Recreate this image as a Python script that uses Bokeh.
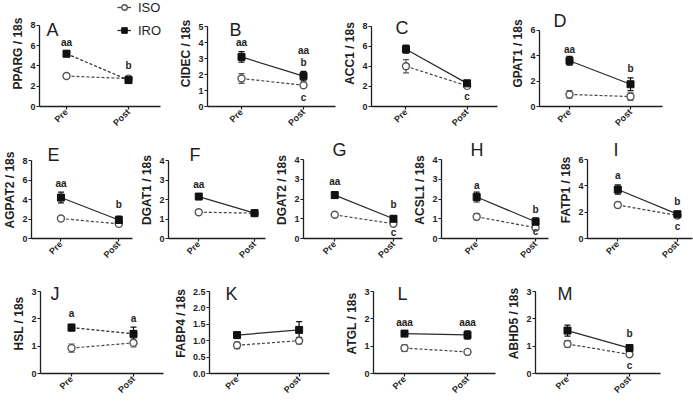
import math
import numpy as np
from bokeh.plotting import figure
from bokeh.models import (Range1d, FixedTicker, ColumnDataSource, Whisker, TeeHead,
                          Label, Legend, LegendItem, NumeralTickFormatter)
from bokeh.layouts import row, column
from bokeh.embed import file_html
from bokeh.resources import INLINE
from bokeh.core.properties import value

# ---------------- data ----------------
letters = ["A", "B", "C", "D", "E", "F", "G", "H", "I", "J", "K", "L", "M"]
genes = ["PPARG", "CIDEC", "ACC1", "GPAT1", "AGPAT2", "DGAT1", "DGAT2",
         "ACSL1", "FATP1", "HSL", "FABP4", "ATGL", "ABHD5"]
x_labels = ["Pre", "Post"]
series_names = ["ISO", "IRO"]
y_max = [8, 5, 8, 6, 8, 4, 4, 4, 6, 3, 2.5, 3, 3]
y_step = [2, 1, 2, 2, 2, 1, 1, 1, 2, 1, 0.5, 1, 1]

iso_pre = [3.0, 1.75, 4.0, 0.95, 2.05, 1.35, 1.2, 1.1, 2.55, 0.93, 0.86, 0.93, 1.08]
iso_post = [2.75, 1.33, 2.05, 0.78, 1.5, 1.3, 0.75, 0.55, 1.75, 1.12, 1.0, 0.79, 0.7]
iso_pre_err = [0.2, 0.3, 0.65, 0.3, 0.2, 0.1, 0.07, 0.15, 0.2, 0.15, 0.1, 0.12, 0.12]
iso_post_err = [0.2, 0.1, 0.2, 0.3, 0.15, 0.1, 0.07, 0.1, 0.1, 0.15, 0.1, 0.05, 0.07]
iro_pre = [5.2, 3.1, 5.7, 3.6, 4.2, 2.15, 2.2, 2.1, 3.72, 1.68, 1.17, 1.46, 1.57]
iro_post = [2.6, 1.9, 2.3, 1.75, 1.9, 1.3, 1.0, 0.85, 1.85, 1.45, 1.33, 1.41, 0.93]
iro_pre_err = [0.3, 0.33, 0.4, 0.35, 0.55, 0.15, 0.15, 0.25, 0.35, 0.12, 0.07, 0.05, 0.2]
iro_post_err = [0.3, 0.3, 0.3, 0.5, 0.4, 0.15, 0.15, 0.2, 0.1, 0.25, 0.25, 0.15, 0.1]

# significance letters: panel index, x category (0=Pre, 1=Post), y value, text
note_panel = [0, 0, 1, 1, 1, 1, 2, 3, 3, 4, 4, 5, 6, 6, 6, 7, 7, 7, 8, 8, 8, 9, 9, 11, 11, 12, 12]
note_cat = [0, 1, 0, 1, 1, 1, 1, 0, 1, 0, 1, 0, 0, 1, 1, 0, 1, 1, 0, 1, 1, 0, 1, 0, 1, 1, 1]
note_y = [6.35, 4.0, 4.0, 3.5, 2.75, 0.55, 1.0, 4.5, 3.0, 5.6, 3.5, 2.75, 2.9, 1.7, 0.3,
          2.7, 1.45, 0.38, 4.8, 2.85, 0.95, 2.18, 2.0, 1.87, 1.87, 1.45, 0.3]
note_text = ["aa", "b", "aa", "aa", "b", "c", "c", "aa", "b", "aa", "b", "aa", "aa", "b", "c",
             "a", "b", "c", "a", "b", "c", "a", "a", "aaa", "aaa", "b", "c"]

# ---------------- styles / layout (pixel positions) ----------------
iro_dashed = [True, False, False, False, False, False, False, False, False, True, False, False, False]
FONT = "Liberation Sans"
INK = "#1e1e1e"
ISO_COL = "#555555"

rows_idx = [[0, 1, 2, 3], [4, 5, 6, 7, 8], [9, 10, 11, 12]]
row_edges_y = [0, 141, 273, 403]
col_edges = [[0, 175, 340, 505, 693], [0, 137, 272, 410, 556, 693], [0, 170, 338, 503, 693]]
ax_left = [39, 207, 369, 539, 29, 162, 297, 435, 581, 40, 207, 373, 535]
ax_right = [160, 335, 497, 662, 132, 265, 402, 548, 692, 163, 329, 495, 660]
x_pre = [66, 241, 404, 569, 59, 194, 330, 472, 613, 71, 235, 404, 567]
x_post = [128, 303, 466, 630, 118, 253, 392, 534, 676, 133, 298, 467, 629]
ax_top = [25, 26, 26, 32, 160, 160, 160, 160, 160, 291, 291, 291, 291]
ax_bot = [107, 106, 108, 114, 238, 238, 243, 243, 243, 373, 373, 373, 373]
let_dx = [7, 22, 24, 14, 16, 21, 29, 29, 26, 10, 16, 24, 22]
let_dy = [5, 3, 3, -4, -6, -6, -6, -6, -6, 2, 2, 2, 2]
legend_left, legend_top = 117, 0


def make_panel(i, c0, c1, r):
    rt, rb = row_edges_y[r], row_edges_y[r + 1]
    H = rb - rt
    W = c1 - c0
    fl, fr = ax_left[i], ax_right[i]
    ft, fb = ax_top[i], ax_bot[i]
    unit = x_post[i] - x_pre[i]
    xs = 1 - (x_pre[i] - fl) / unit
    xe_axis = 2 + (fr - x_post[i]) / unit
    xe_frame = 2 + (c1 - x_post[i]) / unit
    y_top_frame = y_max[i] * (fb - rt) / (fb - ft)

    p = figure(width=W, height=H, output_backend="svg", toolbar_location=None,
               x_range=Range1d(xs, xe_frame), y_range=Range1d(0, y_top_frame),
               min_border_left=fl - c0, min_border_right=0,
               min_border_top=0, min_border_bottom=rb - fb)
    p.outline_line_color = None
    p.grid.visible = False
    p.background_fill_color = "white"
    p.border_fill_color = "white"

    for ax in (p.xaxis[0], p.yaxis[0]):
        ax.axis_line_color = INK
        ax.axis_line_width = 1.3
        ax.major_tick_line_color = INK
        ax.major_tick_line_width = 1.2
        ax.major_tick_out = 3
        ax.major_tick_in = 0
        ax.minor_tick_line_color = None
        ax.major_label_text_font = FONT
        ax.major_label_text_font_size = "9px"
        ax.major_label_text_font_style = "bold"
        ax.major_label_text_color = INK
        ax.major_label_standoff = 1

    p.xaxis.bounds = (xs, xe_axis)
    p.xaxis.ticker = FixedTicker(ticks=[1, 2])
    p.xaxis.major_label_overrides = {1: x_labels[0], 2: x_labels[1]}
    p.xaxis.major_label_orientation = math.pi / 4

    ticks = [k * y_step[i] for k in range(int(round(y_max[i] / y_step[i])) + 1)]
    p.yaxis.bounds = (0, y_max[i])
    p.yaxis.ticker = FixedTicker(ticks=ticks)
    p.yaxis.formatter = NumeralTickFormatter(format="0.0" if y_step[i] < 1 else "0")
    p.yaxis.axis_label = f"{genes[i]} / 18s"
    p.yaxis.axis_label_text_font = FONT
    p.yaxis.axis_label_text_font_size = "12px"
    p.yaxis.axis_label_text_font_style = "bold"
    p.yaxis.axis_label_text_color = INK
    p.yaxis.axis_label_standoff = 2

    src = ColumnDataSource(dict(
        x=[1, 2],
        iso=[iso_pre[i], iso_post[i]],
        iso_lo=[iso_pre[i] - iso_pre_err[i], iso_post[i] - iso_post_err[i]],
        iso_hi=[iso_pre[i] + iso_pre_err[i], iso_post[i] + iso_post_err[i]],
        iro=[iro_pre[i], iro_post[i]],
        iro_lo=[iro_pre[i] - iro_pre_err[i], iro_post[i] - iro_post_err[i]],
        iro_hi=[iro_pre[i] + iro_pre_err[i], iro_post[i] + iro_post_err[i]],
    ))

    p.line("x", "iso", source=src, line_color="#444444", line_width=1.2, line_dash="3 2")
    p.line("x", "iro", source=src, line_color="#2a2a2a", line_width=1.2,
           line_dash="3 2" if iro_dashed[i] else "solid")

    for lo, hi, col in (("iso_lo", "iso_hi", ISO_COL), ("iro_lo", "iro_hi", "#111111")):
        w = Whisker(source=src, base="x", lower=lo, upper=hi, line_color=col, line_width=1.2,
                    lower_head=TeeHead(size=6, line_color=col, line_width=1.2),
                    upper_head=TeeHead(size=6, line_color=col, line_width=1.2))
        p.add_layout(w)

    p.scatter("x", "iso", source=src, marker="circle", size=7, fill_color="white",
              line_color=ISO_COL, line_width=1.4)
    p.scatter("x", "iro", source=src, marker="square", size=7, fill_color="#111111",
              line_color="#111111")

    # significance letters
    nx, ny, nt = [], [], []
    for k, pi_ in enumerate(note_panel):
        if pi_ == i:
            nx.append(note_cat[k] + 1)
            ny.append(note_y[k])
            nt.append(note_text[k])
    if nt:
        nsrc = ColumnDataSource(dict(x=nx, y=ny, t=nt))
        p.text("x", "y", text="t", source=nsrc, text_font=value(FONT), text_font_style="bold",
               text_font_size="10px", text_align="center", text_baseline="middle",
               text_color=INK)

    # panel letter
    lab = Label(x=let_dx[i], y=fb - (ax_top[i] + let_dy[i]), x_units="screen",
                y_units="screen", text=letters[i], text_font=FONT, text_font_size="18px",
                text_align="left", text_baseline="alphabetic", text_color=INK)
    p.add_layout(lab)

    if i == 0:
        l1 = p.line(x=[np.nan], y=[np.nan], line_color="#444444", line_width=1.3)
        s1 = p.scatter(x=[np.nan], y=[np.nan], marker="circle", size=8, fill_color="white",
                       line_color=ISO_COL, line_width=1.4)
        l2 = p.line(x=[np.nan], y=[np.nan], line_color="#2a2a2a", line_width=1.3)
        s2 = p.scatter(x=[np.nan], y=[np.nan], marker="square", size=8,
                       fill_color="#111111", line_color="#111111")
        leg_h = 16 + 7 + 16
        legend = Legend(items=[LegendItem(label=series_names[0], renderers=[l1, s1]),
                               LegendItem(label=series_names[1], renderers=[l2, s2])],
                        location=(legend_left - fl, fb - (legend_top + leg_h)),
                        glyph_width=14, glyph_height=16, label_height=16, spacing=7,
                        padding=0, margin=0, border_line_color=None,
                        background_fill_alpha=0, label_text_font=FONT,
                        label_text_font_size="13px", label_standoff=7,
                        label_text_color=INK)
        p.add_layout(legend)
    return p


rows_out = []
for r, idxs in enumerate(rows_idx):
    edges = col_edges[r]
    figs = [make_panel(i, edges[k], edges[k + 1], r) for k, i in enumerate(idxs)]
    rows_out.append(row(*figs, spacing=0))

layout = column(*rows_out, spacing=0)
open("out.html", "w").write(file_html(layout, INLINE))
